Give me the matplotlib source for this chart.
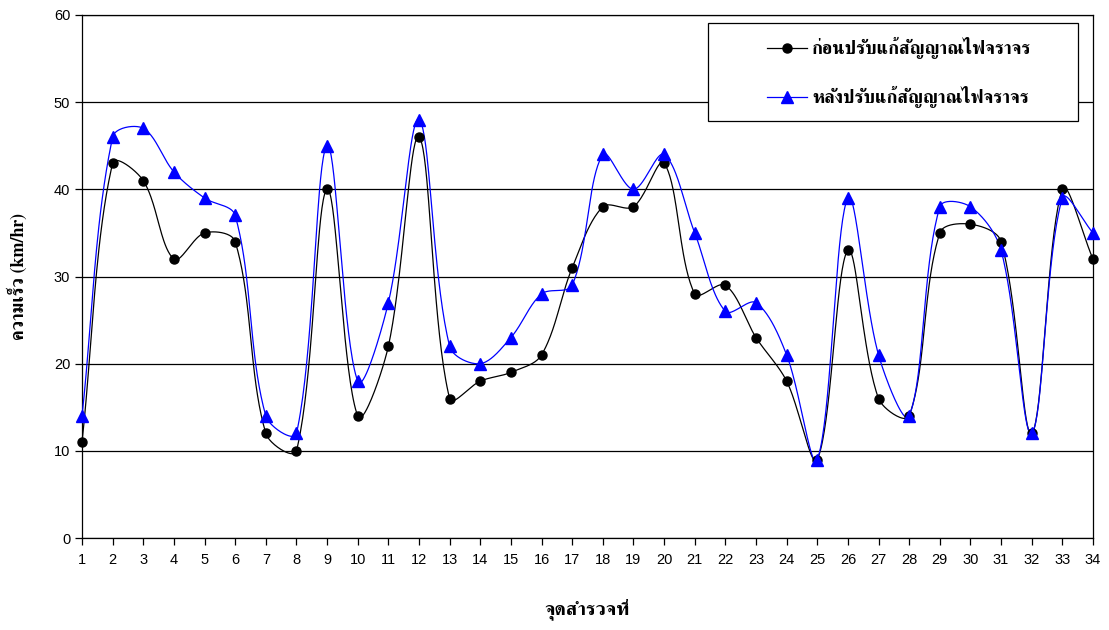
import numpy as np
import matplotlib
matplotlib.use("Agg")
import matplotlib.pyplot as plt
from matplotlib import font_manager
from matplotlib.lines import Line2D
from matplotlib.patches import Rectangle

# Survey points and average speeds (km/hr)
points = list(range(1, 35))
before = [11, 43, 41, 32, 35, 34, 12, 10, 40, 14, 22, 46, 16, 18, 19, 21, 31,
          38, 38, 43, 28, 29, 23, 18, 9, 33, 16, 14, 35, 36, 34, 12, 40, 32]
after = [14, 46, 47, 42, 39, 37, 14, 12, 45, 18, 27, 48, 22, 20, 23, 28, 29,
         44, 40, 44, 35, 26, 27, 21, 9, 39, 21, 14, 38, 38, 33, 12, 39, 35]
label_before = "ก่อนปรับแก้สัญญาณไฟจราจร"
label_after = "หลังปรับแก้สัญญาณไฟจราจร"
x_title = "จุดสำรวจที่"
y_title = "ความเร็ว (km/hr)"

BLUE = "#0000FF"


def thai_family():
    """Return the name of an installed font that covers Thai, if any."""
    try:
        from fontTools.ttLib import TTFont
    except Exception:
        return None
    found = []
    for f in font_manager.fontManager.ttflist:
        try:
            tt = TTFont(f.fname, fontNumber=0, lazy=True)
            cmap = tt.getBestCmap()
            if cmap and 0x0E01 in cmap and 0x0E2A in cmap:
                found.append(f.name)
        except Exception:
            continue
    if not found:
        return None
    for name in found:
        if "Serif" in name:
            return name
    return found[0]


thai = thai_family()
text_family = [thai, "DejaVu Sans"] if thai else ["DejaVu Sans"]


def smooth(ax, xs, ys, n=40):
    """Smoothed line through every point, built in display space with
    chord-length weighted tangents (cubic Bezier per segment)."""
    P = ax.transData.transform(np.column_stack([xs, ys]).astype(float))
    out = [P[0]]
    t = np.linspace(0, 1, n)[1:, None]
    m = len(P)
    for i in range(m - 1):
        p0 = P[i - 1] if i > 0 else P[i]
        p1 = P[i]
        p2 = P[i + 1]
        p3 = P[i + 2] if i + 2 < m else P[i + 1]
        d01 = np.hypot(*(p1 - p0))
        d12 = np.hypot(*(p2 - p1))
        d23 = np.hypot(*(p3 - p2))
        w1 = d12 / (d01 + d12) if d01 + d12 > 0 else 0.5
        w2 = d12 / (d12 + d23) if d12 + d23 > 0 else 0.5
        c1 = p1 + (p2 - p0) * w1 / 3.0
        c2 = p2 - (p3 - p1) * w2 / 3.0
        seg = ((1 - t) ** 3) * p1 + 3 * ((1 - t) ** 2) * t * c1 \
            + 3 * (1 - t) * t ** 2 * c2 + t ** 3 * p2
        out.extend(seg)
    out = ax.transData.inverted().transform(np.array(out))
    return out[:, 0], out[:, 1]


fig = plt.figure(figsize=(11.09, 6.30), dpi=100)
ax = fig.add_axes([82 / 1109, 1 - 538 / 630, (1093 - 82) / 1109, (538 - 15) / 630])
ax.set_xlim(1, 34)
ax.set_ylim(0, 60)

sx, sy = smooth(ax, points, before)
ax.plot(sx, sy, color="black", lw=0.9, zorder=3, clip_on=False)
ax.plot(points, before, ls="none", marker="o", ms=6.5, color="black", zorder=4,
        clip_on=False)

sx, sy = smooth(ax, points, after)
ax.plot(sx, sy, color=BLUE, lw=0.9, zorder=3, clip_on=False)
ax.plot(points, after, ls="none", marker="^", ms=8.5, color=BLUE, zorder=5,
        clip_on=False)

ax.set_xticks(points)
ax.set_yticks(range(0, 61, 10))
ax.yaxis.grid(True, color="black", lw=0.9)
ax.set_axisbelow(True)
for s in ax.spines.values():
    s.set_color("black")
    s.set_linewidth(0.9)
ax.tick_params(axis="both", direction="out", length=5, width=0.9, color="black",
               labelsize=10.5, labelcolor="black")
ax.tick_params(axis="x", pad=6)
for lab in ax.get_xticklabels() + ax.get_yticklabels():
    lab.set_family("Liberation Sans")

ax.set_xlabel(x_title, family=text_family, fontsize=14, fontweight="bold", labelpad=22)
ax.set_ylabel(y_title, family=text_family, fontsize=13, fontweight="bold", labelpad=19)

# Legend box drawn in figure pixel fractions
W, H = 1109.0, 630.0


def fx(px):
    return px / W


def fy(py):
    return 1 - py / H


fig.patches.append(Rectangle((fx(708), fy(121)), fx(1078) - fx(708), fy(23) - fy(121),
                             transform=fig.transFigure, facecolor="white",
                             edgecolor="black", lw=0.9, zorder=10))
entries = [(label_before, "black", "o", 6.5, 48), (label_after, BLUE, "^", 8.5, 97)]
for text, col, mk, ms, py in entries:
    fig.lines.append(Line2D([fx(767), fx(807)], [fy(py), fy(py)], color=col, lw=0.9,
                            transform=fig.transFigure, zorder=11))
    fig.lines.append(Line2D([fx(787)], [fy(py)], color=col, marker=mk, ms=ms,
                            ls="none", transform=fig.transFigure, zorder=12))
    fig.text(fx(812), fy(py), text, family=text_family, fontsize=13.3,
             fontweight="bold", va="center", ha="left", zorder=12)

fig.savefig("out.png", dpi=100)
